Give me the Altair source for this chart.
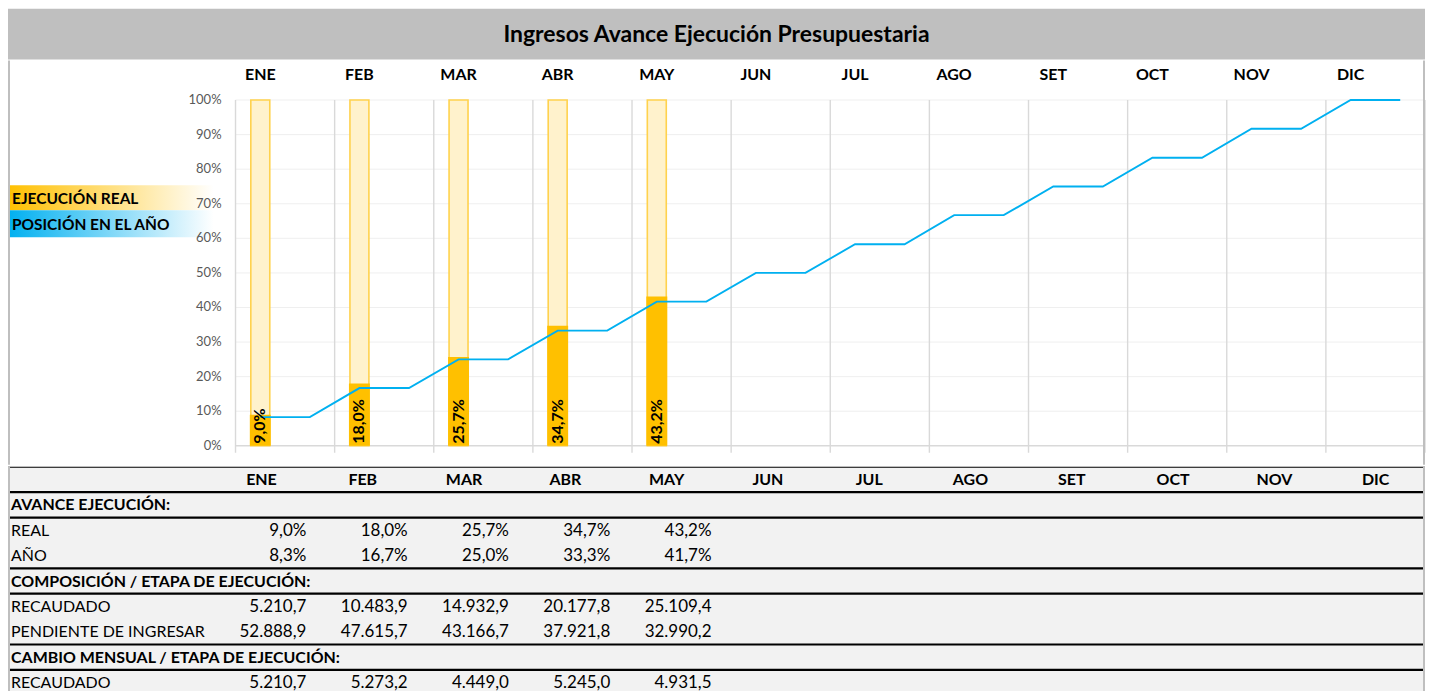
import altair as alt
import pandas as pd

# ---------------- data ----------------
TITLE = "Ingresos Avance Ejecución Presupuestaria"
MONTHS = ["ENE", "FEB", "MAR", "ABR", "MAY", "JUN", "JUL", "AGO", "SET", "OCT", "NOV", "DIC"]
REAL_PCT = [9.0, 18.0, 25.7, 34.7, 43.2]
ANO_PCT = [8.3, 16.7, 25.0, 33.3, 41.7, 50.0, 58.3, 66.7, 75.0, 83.3, 91.7, 100.0]
Y_TICKS = [0, 10, 20, 30, 40, 50, 60, 70, 80, 90, 100]
LEGEND_LABELS = ["EJECUCIÓN REAL", "POSICIÓN EN EL AÑO"]
LEGEND_COLORS = ["#FFC000", "#00B0F0"]

TABLE_ROWS = ["AVANCE EJECUCIÓN:", "REAL", "AÑO",
              "COMPOSICIÓN / ETAPA DE EJECUCIÓN:", "RECAUDADO", "PENDIENTE DE INGRESAR",
              "CAMBIO MENSUAL / ETAPA DE EJECUCIÓN:", "RECAUDADO"]
SECTION_ROWS = [0, 3, 6]
REAL_ROW = [9.0, 18.0, 25.7, 34.7, 43.2]
ANO_ROW = [8.3, 16.7, 25.0, 33.3, 41.7]
RECAUDADO_ROW = [5210.7, 10483.9, 14932.9, 20177.8, 25109.4]
PENDIENTE_ROW = [52888.9, 47615.7, 43166.7, 37921.8, 32990.2]
CAMBIO_RECAUDADO_ROW = [5210.7, 5273.2, 4449.0, 5245.0, 4931.5]


def fmt_num(v):
    s = f"{v:,.1f}"
    return s.replace(",", "#").replace(".", ",").replace("#", ".")


def fmt_pct(v):
    return fmt_num(v) + "%"


FONT = "Lato"
W = 1420
H_TITLE = 51
H_MAIN = 405
H_TABLE = 229
NPOS = 2 * len(MONTHS)
BORDER = "#BFBFBF"


def borders():
    bdf = pd.DataFrame({"b": [0]})
    return [
        alt.Chart(bdf).mark_rule(color=BORDER, strokeWidth=2).encode(x=alt.value(1)),
        alt.Chart(bdf).mark_rule(color=BORDER, strokeWidth=2).encode(x=alt.value(W - 1)),
    ]


# ---------------- title band ----------------
title = alt.Chart(pd.DataFrame({"t": [TITLE]})).mark_text(
    font=FONT, fontSize=23, fontWeight="bold", color="black", baseline="middle", align="center"
).encode(
    text="t:N", x=alt.value(W / 2), y=alt.value(H_TITLE / 2 + 1)
).properties(width=W, height=H_TITLE,
             view=alt.ViewBackground(fill="#BFBFBF", strokeWidth=0))

# ---------------- main chart ----------------
XS = alt.Scale(domain=[-4.5906, NPOS], nice=False, zero=False, padding=0)
YS = alt.Scale(domain=[-5.483, 111.40], nice=False, zero=False, padding=0)

line_df = pd.DataFrame([
    {"pos": 2 * i + h + 0.5, "val": v} for i, v in enumerate(ANO_PCT) for h in (0, 1)
])
bar_df = pd.DataFrame([
    {"pos": 2 * i + 0.5, "real": v, "label": fmt_pct(v)} for i, v in enumerate(REAL_PCT)
])
month_df = pd.DataFrame([{"pos": 2 * i + 0.5, "m": m} for i, m in enumerate(MONTHS)])
vgrid_df = pd.DataFrame({"pos": [2 * k for k in range(len(MONTHS) + 1)]})
ytick_df = pd.DataFrame({"v": Y_TICKS, "label": [f"{t}%" for t in Y_TICKS]})

hgrid = alt.Chart(ytick_df[ytick_df.v > 0]).mark_rule(color="#EFEFEF", strokeWidth=1).encode(
    y=alt.Y("v:Q", scale=YS, axis=None),
    x=alt.datum(0, scale=XS, axis=None), x2=alt.datum(NPOS),
)
vgrid = alt.Chart(vgrid_df).mark_rule(color="#D9D9D9", strokeWidth=1.4).encode(
    x=alt.X("pos:Q", scale=XS, axis=None),
    y=alt.datum(100, scale=YS, axis=None), y2=alt.datum(-2.02),
)
baseline = alt.Chart(pd.DataFrame({"v": [0]})).mark_rule(color="#D9D9D9", strokeWidth=1.5).encode(
    y=alt.Y("v:Q", scale=YS, axis=None),
    x=alt.datum(0, scale=XS, axis=None), x2=alt.datum(NPOS),
)
bg_bars = alt.Chart(bar_df).mark_bar(size=19, fill="#FFF2CC", stroke="#FFD24D", strokeWidth=1.6).encode(
    x=alt.X("pos:Q", scale=XS, axis=None),
    y=alt.datum(100, scale=YS, axis=None), y2=alt.datum(0),
)
fg_bars = alt.Chart(bar_df).mark_bar(size=21, color="#FFC000").encode(
    x=alt.X("pos:Q", scale=XS, axis=None),
    y=alt.Y("real:Q", scale=YS, axis=None), y2=alt.datum(0),
)
line = alt.Chart(line_df).mark_line(color="#00B0F0", strokeWidth=1.9).encode(
    x=alt.X("pos:Q", scale=XS, axis=None),
    y=alt.Y("val:Q", scale=YS, axis=None),
)
bar_labels = alt.Chart(bar_df).mark_text(
    angle=270, align="left", baseline="middle", dx=2, font=FONT, fontSize=16,
    fontWeight="bold", color="black"
).encode(
    x=alt.X("pos:Q", scale=XS, axis=None),
    y=alt.datum(0, scale=YS, axis=None),
    text="label:N",
)
month_labels = alt.Chart(month_df).mark_text(
    font=FONT, fontSize=16, fontWeight="bold", color="black", baseline="middle"
).encode(
    x=alt.X("pos:Q", scale=XS, axis=None), y=alt.value(14), text="m:N"
)
y_labels = alt.Chart(ytick_df).mark_text(
    font=FONT, fontSize=13, color="#595959", align="right", baseline="middle"
).encode(
    x=alt.value(214), y=alt.Y("v:Q", scale=YS, axis=None), text="label:N"
)

legend_rects = []
legend_texts = []
for k, (lab, col) in enumerate(zip(LEGEND_LABELS, LEGEND_COLORS)):
    grad = alt.LinearGradient(
        gradient="linear",
        stops=[alt.GradientStop(color=col, offset=0), alt.GradientStop(color="#FFFFFF", offset=1)],
        x1=0, x2=1, y1=0, y2=0,
    )
    top = 125 + 25 * k
    hgt = 25 + 2 * k
    ldf = pd.DataFrame({"t": [lab]})
    legend_rects.append(
        alt.Chart(ldf).mark_rect(color=grad).encode(
            x=alt.value(0), x2=alt.value(206), y=alt.value(top), y2=alt.value(top + hgt)
        )
    )
    legend_texts.append(
        alt.Chart(ldf).mark_text(font=FONT, fontSize=15.5, fontWeight="bold", color="black",
                                 align="left", baseline="middle").encode(
            x=alt.value(4), y=alt.value(top + hgt / 2 + 1), text="t:N"
        )
    )

main = alt.layer(
    hgrid, vgrid, baseline, bg_bars, fg_bars, line, bar_labels, month_labels,
    *legend_rects, y_labels, *legend_texts, *borders()
).properties(width=W, height=H_MAIN,
             view=alt.ViewBackground(fill="white", strokeWidth=0))

# ---------------- table ----------------
TXS = alt.Scale(domain=[-2.5025, 11.4877], nice=False, zero=False, padding=0)
TYS = alt.Scale(domain=[0, len(TABLE_ROWS) + 1], reverse=True, nice=False, zero=False, padding=0)

row_values = {1: (REAL_ROW, fmt_pct), 2: (ANO_ROW, fmt_pct), 4: (RECAUDADO_ROW, fmt_num),
              5: (PENDIENTE_ROW, fmt_num), 7: (CAMBIO_RECAUDADO_ROW, fmt_num)}

head_df = pd.DataFrame([{"c": i, "r": 0.5, "t": m} for i, m in enumerate(MONTHS)])
lab_df = pd.DataFrame([
    {"r": k + 1.5, "t": lab, "bold": k in SECTION_ROWS} for k, lab in enumerate(TABLE_ROWS)
])
val_rows = []
for k, (vals, f) in row_values.items():
    for c, v in enumerate(vals):
        val_rows.append({"c": c, "r": k + 1.5, "t": f(v)})
val_df = pd.DataFrame(val_rows)
line_rows = sorted({0, 1} | {s + 1 for s in SECTION_ROWS} | {s + 2 for s in SECTION_ROWS})
sep_df = pd.DataFrame({"r": line_rows})

DY = 0.5
t_head = alt.Chart(head_df).mark_text(font=FONT, fontSize=16, fontWeight="bold", color="black",
                                      baseline="middle", dy=DY).encode(
    x=alt.X("c:Q", scale=TXS, axis=None), y=alt.Y("r:Q", scale=TYS, axis=None), text="t:N"
)
t_sec = alt.Chart(lab_df[lab_df.bold]).mark_text(font=FONT, fontSize=16, fontWeight="bold",
                                                 color="black", align="left", baseline="middle",
                                                 dy=DY).encode(
    x=alt.value(3), y=alt.Y("r:Q", scale=TYS, axis=None), text="t:N"
)
t_lab = alt.Chart(lab_df[~lab_df.bold]).mark_text(font=FONT, fontSize=16, color="black",
                                                  align="left", baseline="middle", dy=DY).encode(
    x=alt.value(3), y=alt.Y("r:Q", scale=TYS, axis=None), text="t:N"
)
t_val = alt.Chart(val_df).mark_text(font=FONT, fontSize=17, color="black", align="right",
                                    baseline="middle", dx=45, dy=DY).encode(
    x=alt.X("c:Q", scale=TXS, axis=None), y=alt.Y("r:Q", scale=TYS, axis=None), text="t:N"
)
t_sep = alt.Chart(sep_df).mark_rule(color="black", strokeWidth=2.2, clip=True).encode(
    y=alt.Y("r:Q", scale=TYS, axis=None)
)

table = alt.layer(t_head, t_sec, t_lab, t_val, t_sep, *borders()).properties(
    width=W, height=H_TABLE,
    view=alt.ViewBackground(fill="#F2F2F2", strokeWidth=0)
)

chart = alt.vconcat(title, main, table, spacing=0).properties(padding=0).configure(
    font=FONT, background="white"
)

chart.save("out.html", embed_options={"renderer": "svg", "actions": False})
